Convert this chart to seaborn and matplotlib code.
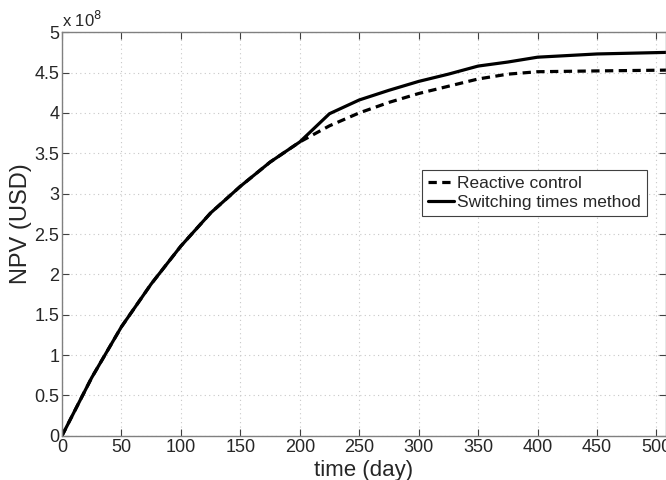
import numpy as np
import pandas as pd
import seaborn as sns
import matplotlib.pyplot as plt
from matplotlib.ticker import FuncFormatter, MultipleLocator

# time (day)
t_common = [0, 25, 50, 75, 100, 125, 150, 175, 200]
npv_common = [0, 0.72e8, 1.35e8, 1.88e8, 2.35e8, 2.76e8, 3.09e8, 3.39e8, 3.64e8]

t_tail = [225, 250, 275, 300, 325, 350, 375, 400, 450, 510]
npv_reactive_tail = [3.84e8, 4.00e8, 4.13e8, 4.24e8, 4.33e8, 4.42e8, 4.48e8, 4.51e8, 4.52e8, 4.53e8]
npv_switching_tail = [3.99e8, 4.16e8, 4.28e8, 4.39e8, 4.48e8, 4.58e8, 4.63e8, 4.69e8, 4.73e8, 4.75e8]

reactive = pd.DataFrame({"time": t_common + t_tail, "npv": npv_common + npv_reactive_tail})
switching = pd.DataFrame({"time": t_common + t_tail, "npv": npv_common + npv_switching_tail})

sns.set_style("white")
plt.rcParams["font.family"] = ["Liberation Sans", "DejaVu Sans"]

fig = plt.figure(figsize=(6.66, 4.8), dpi=100)
ax = fig.add_axes([0.093, 0.092, 0.907, 0.841])

sns.lineplot(data=reactive, x="time", y="npv", ax=ax, color="black", lw=2.3,
             label="Reactive control")
ax.lines[-1].set_dashes((2.6, 1.7))
sns.lineplot(data=switching, x="time", y="npv", ax=ax, color="black", lw=2.3,
             label="Switching times method")

ax.set_xlim(0, 508)
ax.set_ylim(0, 5e8)
ax.xaxis.set_major_locator(MultipleLocator(50))
ax.yaxis.set_major_locator(MultipleLocator(0.5e8))
ax.yaxis.set_major_formatter(FuncFormatter(lambda v, p: "%g" % (v / 1e8)))

ax.grid(True, linestyle=(0, (1, 3)), color="#c8c8c8", lw=0.8)
for s in ax.spines.values():
    s.set_color("#808080")
    s.set_linewidth(1.0)
ax.tick_params(direction="in", length=5, color="#404040", labelsize=13,
               top=True, right=True, bottom=True, left=True, pad=2)

ax.set_xlabel("time (day)", fontsize=16, labelpad=3)
ax.set_ylabel("NPV (USD)", fontsize=17)
ax.yaxis.set_label_coords(-0.05, 0.526)
ax.text(0.0, 1.005, "x 10$^{8}$", transform=ax.transAxes, fontsize=12,
        va="bottom", ha="left")

leg = ax.legend(loc="upper right", bbox_to_anchor=(0.9685, 0.658), borderaxespad=0,
                fontsize=12.5, handlelength=1.45, handletextpad=0.2, borderpad=0.35,
                labelspacing=0.2, frameon=True, fancybox=False, framealpha=1)
leg.get_frame().set_edgecolor("#404040")
leg.get_frame().set_linewidth(0.8)

fig.savefig("out.png", dpi=100)
